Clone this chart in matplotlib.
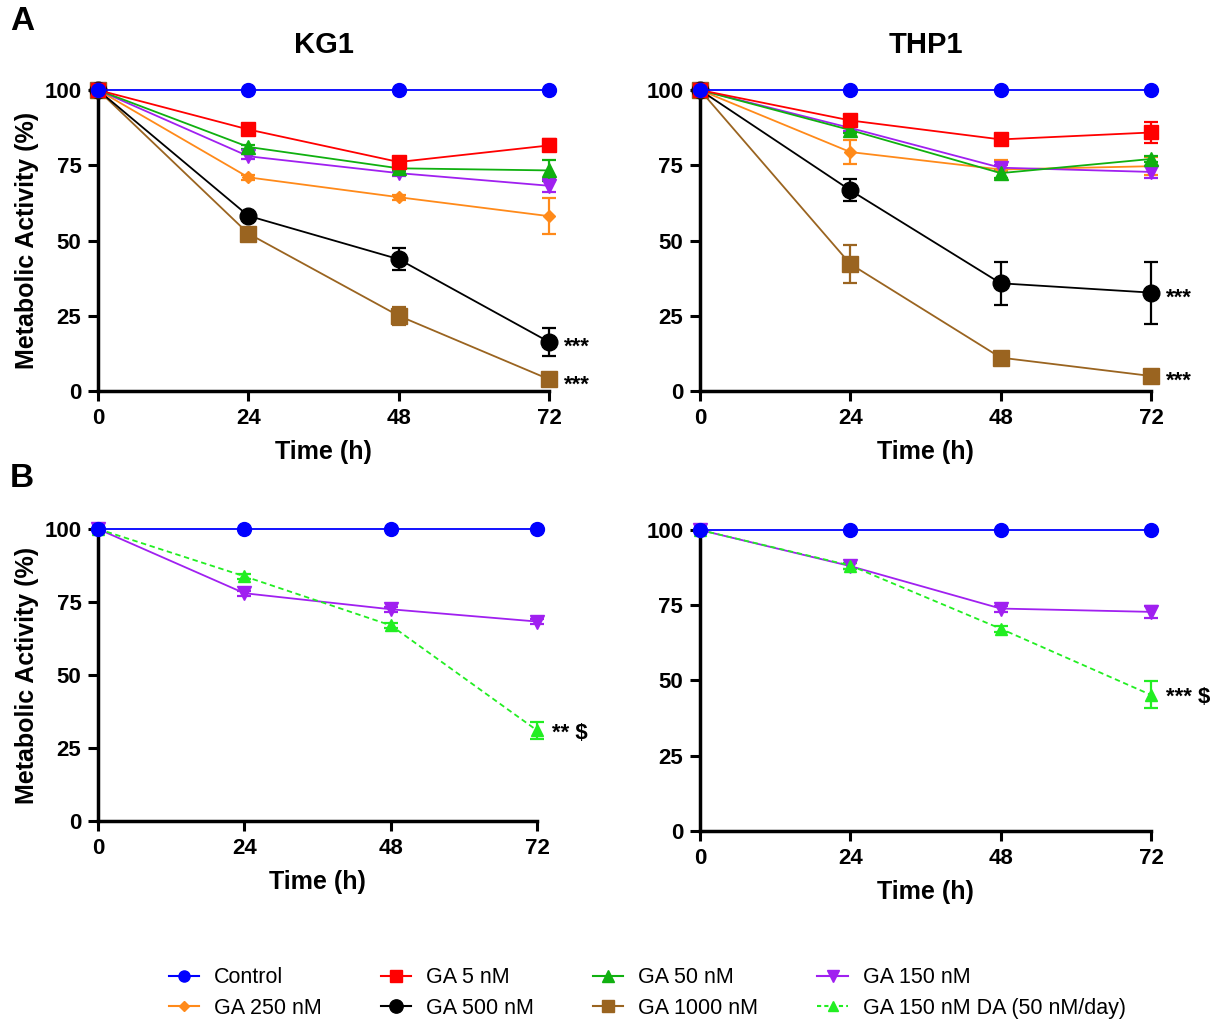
import matplotlib
matplotlib.use("Agg")
import matplotlib.pyplot as plt
from matplotlib.font_manager import FontProperties
from matplotlib.lines import Line2D

hours = [0, 24, 48, 72]
xticks = [0, 24, 48, 72]
yticks = [0, 25, 50, 75, 100]

labels = ["Control", "GA 5 nM", "GA 50 nM", "GA 150 nM", "GA 250 nM",
          "GA 500 nM", "GA 1000 nM", "GA 150 nM DA (50 nM/day)"]

# KG1 (panel A)
kg1_control = [100, 100, 100, 100]
kg1_ga5 = [100, 86.9, 76.1, 81.6]
kg1_ga5_err = [0, 0.8, 1.0, 2.0]
kg1_ga50 = [100, 81.1, 74.0, 73.3]
kg1_ga50_err = [0, 0.8, 0.8, 3.5]
kg1_ga150 = [100, 78.0, 72.4, 68.2]
kg1_ga150_err = [0, 0.8, 0.8, 2.2]
kg1_ga250 = [100, 71.0, 64.4, 58.1]
kg1_ga250_err = [0, 0.8, 0.8, 6.0]
kg1_ga500 = [100, 58.2, 43.8, 16.3]
kg1_ga500_err = [0, 1.0, 3.6, 4.7]
kg1_ga1000 = [100, 52.3, 25.0, 3.9]
kg1_ga1000_err = [0, 1.0, 3.0, 0.8]

# THP1 (panel A)
thp1_control = [100, 100, 100, 100]
thp1_ga5 = [100, 89.9, 83.6, 85.9]
thp1_ga5_err = [0, 1.0, 1.0, 3.5]
thp1_ga50 = [100, 86.7, 72.4, 77.1]
thp1_ga50_err = [0, 1.0, 1.5, 1.0]
thp1_ga150 = [100, 87.4, 74.2, 72.8]
thp1_ga150_err = [0, 1.0, 1.0, 2.0]
thp1_ga250 = [100, 79.4, 73.6, 74.7]
thp1_ga250_err = [0, 3.9, 3.3, 3.0]
thp1_ga500 = [100, 66.7, 35.8, 32.7]
thp1_ga500_err = [0, 3.7, 7.2, 10.3]
thp1_ga1000 = [100, 42.2, 11.1, 5.0]
thp1_ga1000_err = [0, 6.2, 1.0, 0.8]

# Panel B
kg1b_control = [100, 100, 100, 100]
kg1b_ga150 = [100, 78.0, 72.5, 68.3]
kg1b_ga150_err = [0, 0.8, 0.8, 1.0]
kg1b_da = [100, 83.8, 67.0, 31.0]
kg1b_da_err = [0, 0.8, 0.8, 2.8]

thp1b_control = [100, 100, 100, 100]
thp1b_ga150 = [100, 88.0, 73.9, 72.8]
thp1b_ga150_err = [0, 1.0, 1.0, 2.0]
thp1b_da = [100, 88.2, 67.2, 45.2]
thp1b_da_err = [0, 1.0, 1.0, 4.5]

colors = {
    "Control": "#0000FF",
    "GA 5 nM": "#FF0000",
    "GA 50 nM": "#10B010",
    "GA 150 nM": "#A020F0",
    "GA 250 nM": "#FF8A1A",
    "GA 500 nM": "#000000",
    "GA 1000 nM": "#9A6420",
    "GA 150 nM DA (50 nM/day)": "#22EE22",
}
markers = {
    "Control": ("o", 10),
    "GA 5 nM": ("s", 10),
    "GA 50 nM": ("^", 10),
    "GA 150 nM": ("v", 10),
    "GA 250 nM": ("D", 6.5),
    "GA 500 nM": ("o", 12),
    "GA 1000 nM": ("s", 11),
    "GA 150 nM DA (50 nM/day)": ("^", 9),
}

plt.rcParams['font.family'] = ['Liberation Sans', 'DejaVu Sans']
tickfont = FontProperties(family=['Liberation Sans', 'DejaVu Sans'],
                          weight='bold', size=16)

fig = plt.figure(figsize=(12.21, 10.21), dpi=100)

def make_ax(rect):
    ax = fig.add_axes(rect)
    ax.set_xlim(0, 72)
    ax.set_ylim(0, 100)
    for s in ["top", "right"]:
        ax.spines[s].set_visible(False)
    for s in ["left", "bottom"]:
        ax.spines[s].set_linewidth(2.5)
    ax.set_xticks(xticks)
    ax.set_yticks(yticks)
    ax.tick_params(width=2.2, length=7, direction='out', pad=5)
    for lab in ax.get_xticklabels() + ax.get_yticklabels():
        lab.set_fontproperties(tickfont)
    return ax

def series(ax, name, y, err=None, ls='-'):
    m, ms = markers[name]
    c = colors[name]
    ax.errorbar(hours, y, yerr=err, color=c, marker=m, ms=ms, lw=1.3, ls=ls,
                capsize=5, elinewidth=1.6, capthick=1.6, clip_on=False, zorder=3)

axA1 = make_ax([0.0803, 0.617, 0.3694, 0.2948])
axA2 = make_ax([0.5733, 0.617, 0.3694, 0.2948])
axB1 = make_ax([0.0803, 0.1959, 0.3596, 0.286])
axB2 = make_ax([0.5733, 0.1861, 0.3694, 0.2948])

series(axA1, "GA 1000 nM", kg1_ga1000, kg1_ga1000_err)
series(axA1, "GA 500 nM", kg1_ga500, kg1_ga500_err)
series(axA1, "GA 250 nM", kg1_ga250, kg1_ga250_err)
series(axA1, "GA 150 nM", kg1_ga150, kg1_ga150_err)
series(axA1, "GA 50 nM", kg1_ga50, kg1_ga50_err)
series(axA1, "GA 5 nM", kg1_ga5, kg1_ga5_err)
series(axA1, "Control", kg1_control)

series(axA2, "GA 1000 nM", thp1_ga1000, thp1_ga1000_err)
series(axA2, "GA 500 nM", thp1_ga500, thp1_ga500_err)
series(axA2, "GA 250 nM", thp1_ga250, thp1_ga250_err)
series(axA2, "GA 150 nM", thp1_ga150, thp1_ga150_err)
series(axA2, "GA 50 nM", thp1_ga50, thp1_ga50_err)
series(axA2, "GA 5 nM", thp1_ga5, thp1_ga5_err)
series(axA2, "Control", thp1_control)

series(axB1, "GA 150 nM", kg1b_ga150, kg1b_ga150_err)
series(axB1, "GA 150 nM DA (50 nM/day)", kg1b_da, kg1b_da_err, ls=(0, (3, 2)))
series(axB1, "Control", kg1b_control)

series(axB2, "GA 150 nM", thp1b_ga150, thp1b_ga150_err)
series(axB2, "GA 150 nM DA (50 nM/day)", thp1b_da, thp1b_da_err, ls=(0, (3, 2)))
series(axB2, "Control", thp1b_control)

# significance annotations
def note(ax, x, y, txt, dy=-4):
    ax.annotate(txt, xy=(x, y), xytext=(11, dy), textcoords='offset points',
                ha='left', va='center', fontsize=16, fontweight='bold', annotation_clip=False)

note(axA1, 72, kg1_ga500[3], "***")
note(axA1, 72, kg1_ga1000[3], "***")
note(axA2, 72, thp1_ga500[3], "***")
note(axA2, 72, thp1_ga1000[3], "***")
note(axB1, 72, kg1b_da[3], "** $", dy=-2)
note(axB2, 72, thp1b_da[3], "*** $", dy=-2)

# labels
for ax in [axA1, axA2, axB1, axB2]:
    ax.set_xlabel("Time (h)", fontsize=18, fontweight='bold', labelpad=8)
axA1.set_ylabel("Metabolic Activity (%)", fontsize=18, fontweight='bold', labelpad=4)
axB1.set_ylabel("Metabolic Activity (%)", fontsize=18, fontweight='bold', labelpad=4)

axA1.set_title("KG1", fontsize=21, fontweight='bold', pad=27)
axA2.set_title("THP1", fontsize=21, fontweight='bold', pad=27)

fig.text(0.008, 0.979, "A", fontsize=24, fontweight='bold', va='center')
fig.text(0.008, 0.531, "B", fontsize=24, fontweight='bold', va='center')

# legend
handles = {}
for name in labels:
    m, ms = markers[name]
    ls = (0, (2, 1.5)) if "DA" in name else '-'
    handles[name] = Line2D([0], [0], color=colors[name], marker=m, ms=ms * 0.8, lw=1.5, ls=ls)
order = ["Control", "GA 250 nM", "GA 5 nM", "GA 500 nM", "GA 50 nM", "GA 1000 nM",
         "GA 150 nM", "GA 150 nM DA (50 nM/day)"]
fig.legend([handles[n] for n in order], order, ncol=4, loc='center',
           bbox_to_anchor=(0.530, 0.0275), frameon=False, fontsize=15.5,
           handlelength=1.4, columnspacing=2.75, handletextpad=0.7, labelspacing=0.45)

fig.savefig("out.png", dpi=100)
